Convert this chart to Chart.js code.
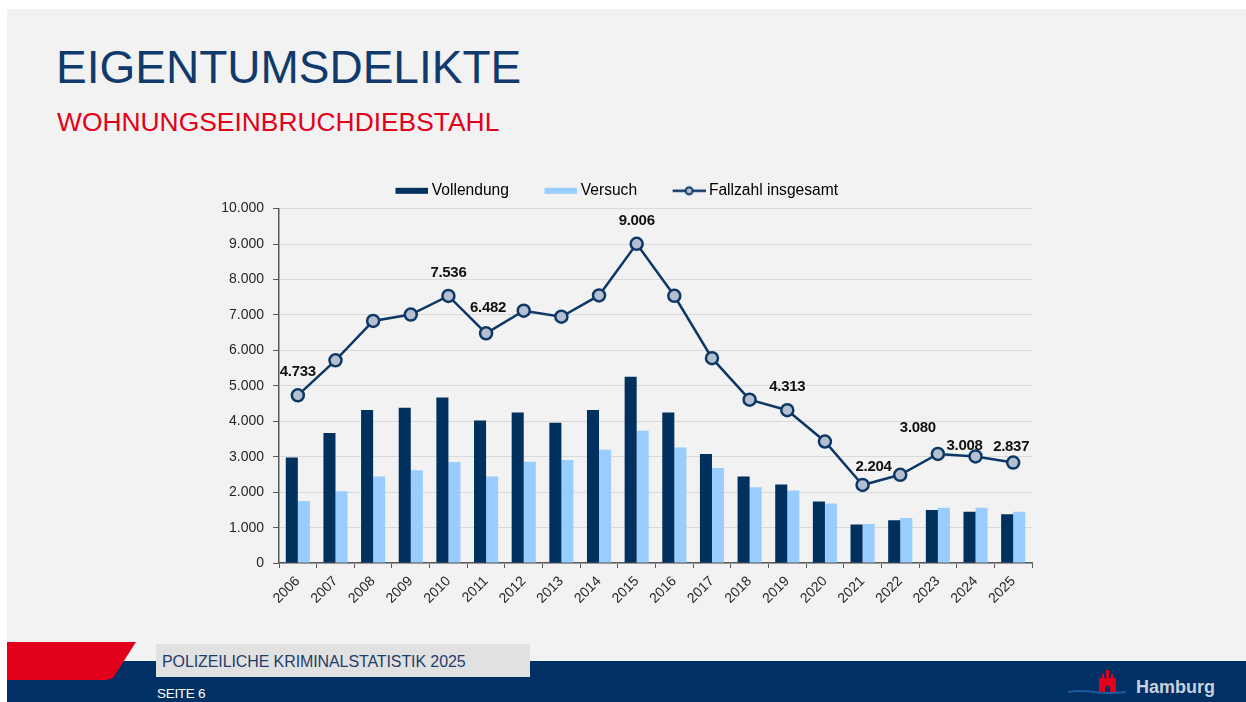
<!DOCTYPE html>
<html lang="de">
<head>
<meta charset="utf-8">
<title>Eigentumsdelikte - Wohnungseinbruchdiebstahl</title>
<script src="https://cdn.jsdelivr.net/npm/chart.js@4.4.1/dist/chart.umd.min.js"></script>
<style>
  html, body { margin: 0; padding: 0; }
  body { width: 1246px; height: 702px; background: #fff; position: relative; overflow: hidden; font-family: "Liberation Sans", Arial, sans-serif; }
  #folie { position: absolute; left: 7px; top: 9px; right: 0; bottom: 0; background: #f2f2f2; }
  #titel { position: absolute; left: 56px; top: 44px; margin: 0; font-size: 46px; line-height: 46px; font-weight: normal; color: #0f3a6b; white-space: nowrap; }
  #untertitel { position: absolute; left: 57px; top: 109px; margin: 0; font-size: 26.4px; line-height: 26px; font-weight: normal; color: #e2001a; white-space: nowrap; }
  #diagramm { position: absolute; left: 200px; top: 172px; width: 845px; height: 440px; }
  #fuss-blau { position: absolute; left: 7px; top: 661px; right: 0; height: 41px; background: #003064; }
  #fuss-rot { position: absolute; left: 7px; top: 642px; width: 129px; height: 38px; background: #e2001a; clip-path: polygon(0 0, 129px 0, 106px 36px, 100px 38px, 0 38px); }
  #fuss-box { position: absolute; left: 156px; top: 644px; width: 374px; height: 33px; background: #e1e1e1; }
  #fuss-text { position: absolute; left: 162px; top: 654px; font-size: 16px; line-height: 16px; color: #1f3d6b; letter-spacing: -0.1px; white-space: nowrap; }
  #seite { position: absolute; left: 157px; top: 687px; font-size: 13.5px; line-height: 14px; color: #fff; letter-spacing: -0.3px; }
  #logo { position: absolute; left: 1060px; top: 664px; }
</style>
</head>
<body>
<div id="folie"></div>
<h1 id="titel">EIGENTUMSDELIKTE</h1>
<h2 id="untertitel">WOHNUNGSEINBRUCHDIEBSTAHL</h2>

<div id="diagramm"><canvas id="chart"></canvas></div>

<div id="fuss-blau"></div>
<div id="fuss-rot"></div>
<div id="fuss-box"></div>
<div id="fuss-text">POLIZEILICHE KRIMINALSTATISTIK 2025</div>
<div id="seite">SEITE 6</div>
<svg id="logo" width="170" height="36" viewBox="0 0 170 36">
  <path d="M8 28 Q20 26 34 28 T66 28" stroke="#1f5aa0" stroke-width="2" fill="none"/>
  <path d="M39 28 L39 14 L42 14 L42 10 L44 10 L44 14 L46 14 L46 6 L49 6 L49 14 L51 14 L51 10 L53 10 L53 14 L56 14 L56 28 L50 28 L50 22 L45 22 L45 28 Z" fill="#e2001a"/>
  <text x="76" y="29" font-family="Liberation Sans, Arial, sans-serif" font-weight="bold" font-size="18" fill="#c9d1dd">Hamburg</text>
</svg>

<script>
// Daten
var jahre = ['2006','2007','2008','2009','2010','2011','2012','2013','2014','2015','2016','2017','2018','2019','2020','2021','2022','2023','2024','2025'];
var vollendung = [2980, 3670, 4320, 4380, 4670, 4020, 4250, 3960, 4320, 5260, 4250, 3080, 2440, 2220, 1740, 1090, 1210, 1500, 1450, 1380];
var versuch = [1753, 2030, 2440, 2620, 2850, 2440, 2860, 2910, 3200, 3730, 3260, 2680, 2140, 2050, 1680, 1100, 1270, 1560, 1560, 1450];
var fallzahl = [4733, 5720, 6830, 7010, 7536, 6482, 7120, 6950, 7550, 9006, 7540, 5780, 4610, 4313, 3430, 2204, 2490, 3080, 3008, 2837];
var yTicks = [0, 1000, 2000, 3000, 4000, 5000, 6000, 7000, 8000, 9000, 10000];
var beschrifteteJahre = ['2006','2010','2011','2015','2019','2021','2023','2024','2025'];

// Verschiebung der Wertbeschriftung gegenueber dem Punkt [dx, dy]
var labelVersatz = { '2011': [2, -25], '2021': [11, -18], '2023': [-20, -26], '2024': [-11, -11], '2025': [-2, -16] };

var dunkelblau = '#00305e';
var hellblau = '#99ccff';
var linienblau = '#0d3866';

//  10000 -> "10.000"
function tausender(v){
    return String(v).replace(/\B(?=(\d{3})+(?!\d))/g, '.');
}

// Symbole fuer die Legende: links transparenter Rand, damit die Eintraege weiter auseinander stehen
function legendenSymbol(typ){
    var c = document.createElement('canvas');
    c.width = 63; c.height = 12;
    var ctx = c.getContext('2d');
    var x0 = 30;
    if (typ === 'linie'){
        ctx.strokeStyle = linienblau;
        ctx.lineWidth = 2.5;
        ctx.beginPath(); ctx.moveTo(x0, 6); ctx.lineTo(x0 + 33, 6); ctx.stroke();
        ctx.fillStyle = '#b4c0d2';
        ctx.lineWidth = 2;
        ctx.beginPath(); ctx.arc(x0 + 16.5, 6, 3.5, 0, Math.PI * 2); ctx.fill(); ctx.stroke();
    } else {
        ctx.fillStyle = typ;
        ctx.fillRect(x0, 3, 33, 6);
    }
    return c;
}

// Legende etwas nach links ruecken (transparenter Rand des ersten Symbols)
var legendeVerschieben = {
    id: 'legendeVerschieben',
    afterLayout(chart){
        chart.legend.left -= 12;
        chart.legend.right -= 12;
    }
};

var wertLabels = {
    id: 'wertLabels',
    afterDatasetsDraw(chart){
        var meta = chart.getDatasetMeta(2);
        var ctx = chart.ctx;
        ctx.save();
        ctx.font = 'bold 15px "Liberation Sans", Arial, sans-serif';
        ctx.letterSpacing = '-0.3px';
        ctx.fillStyle = '#111';
        ctx.textAlign = 'center';
        ctx.textBaseline = 'middle';
        beschrifteteJahre.forEach(jahr => {
            var i = jahre.indexOf(jahr);
            var p = meta.data[i];
            var v = labelVersatz[jahr] || [0, -23];
            ctx.fillText(tausender(fallzahl[i]), p.x + v[0], p.y + v[1]);
        });
        ctx.restore();
    }
};

Chart.defaults.font.family = '"Liberation Sans", Arial, sans-serif';
Chart.defaults.color = '#262626';

const config = {
    type: 'bar',
    data: {
        labels: jahre,
        datasets: [
            { label: 'Vollendung', data: vollendung, backgroundColor: dunkelblau, order: 2,
              categoryPercentage: 0.64, barPercentage: 1 },
            { label: 'Versuch', data: versuch, backgroundColor: hellblau, order: 2,
              categoryPercentage: 0.64, barPercentage: 1 },
            { type: 'line', label: 'Fallzahl insgesamt', data: fallzahl, order: 1,
              borderColor: linienblau, borderWidth: 2.5, tension: 0,
              pointRadius: 6, pointHoverRadius: 6, pointBorderWidth: 2.5,
              pointBackgroundColor: '#b4c0d2', pointBorderColor: linienblau }
        ]
    },
    options: {
        responsive: true,
        maintainAspectRatio: false,
        animation: false,
        layout: { padding: { left: 0, right: 13, top: 1, bottom: 0 } },
        plugins: {
            tooltip: { enabled: false },
            legend: {
                position: 'top',
                labels: {
                    usePointStyle: true,
                    pointStyleWidth: 54,
                    padding: 10,
                    color: '#1a1a1a',
                    font: { size: 15.6 },
                    generateLabels(chart){
                        var symbole = [legendenSymbol(dunkelblau), legendenSymbol(hellblau), legendenSymbol('linie')];
                        return chart.data.datasets.map((ds, i) => ({
                            text: ds.label, datasetIndex: i, pointStyle: symbole[i],
                            fillStyle: 'transparent', strokeStyle: 'transparent', lineWidth: 0, hidden: false
                        }));
                    }
                }
            }
        },
        scales: {
            x: {
                offset: true,
                ticks: { font: { size: 14 }, maxRotation: 45, minRotation: 45, padding: 5, autoSkip: false },
                grid: { offset: true, drawOnChartArea: false, tickColor: '#595959', tickLength: 5 },
                border: { color: '#595959', width: 1.5 }
            },
            y: {
                min: 0,
                max: 10000,
                afterBuildTicks: scale => { scale.ticks = yTicks.map(v => ({ value: v })); },
                ticks: { font: { size: 14 }, padding: 9, callback: v => tausender(v) },
                grid: { color: '#d9d9d9', tickColor: '#595959', tickLength: 6 },
                border: { color: '#595959', width: 1.5 },
                afterFit: scale => { scale.width = 79; }
            }
        }
    },
    plugins: [wertLabels, legendeVerschieben]
};

var myChart = new Chart(document.getElementById('chart'), config);
</script>
</body>
</html>
